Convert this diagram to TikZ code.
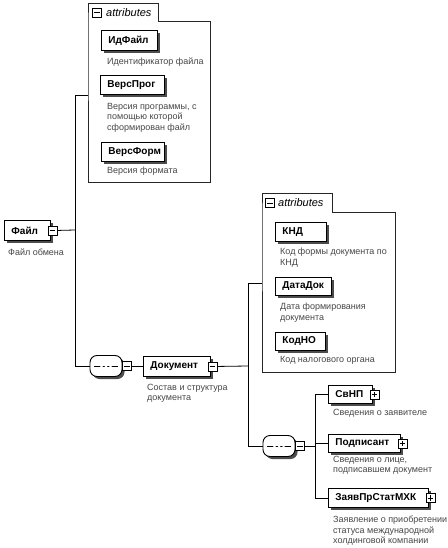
\documentclass[tikz,border=0pt]{standalone}
\usepackage{fontspec}
\setmainfont{Liberation Sans}
\usetikzlibrary{shadows}
\tikzset{
  elem/.style={draw=black, line width=0.9pt, fill=white, anchor=north west,
    inner xsep=7pt, inner ysep=0pt, align=left,
    font=\bfseries\fontsize{10}{12}\selectfont,
    drop shadow={shadow xshift=2.5pt, shadow yshift=-2.5pt, fill=black!70, opacity=1}},
  desc/.style={anchor=north west, inner sep=0pt, align=left, text=black!72,
    font=\fontsize{9}{10.5}\selectfont},
  pmbox/.style={draw=black, line width=0.7pt, fill=white, minimum size=9pt, inner sep=0pt},
  minusbox/.style={pmbox, path picture={\draw[line width=0.7pt]
    ([xshift=1.8pt]path picture bounding box.west) -- ([xshift=-1.8pt]path picture bounding box.east);}},
  plusbox/.style={pmbox, path picture={\draw[line width=0.7pt]
    ([xshift=1.8pt]path picture bounding box.west) -- ([xshift=-1.8pt]path picture bounding box.east)
    ([yshift=1.8pt]path picture bounding box.south) -- ([yshift=-1.8pt]path picture bounding box.north);}},
  seqbox/.style={draw=black, line width=0.9pt, fill=white, rounded corners=7pt,
    minimum width=32pt, minimum height=21pt, inner sep=0pt,
    drop shadow={shadow xshift=2.5pt, shadow yshift=-2.5pt, fill=black!70, opacity=1},
    path picture={
      \draw[line width=0.7pt] ([xshift=4pt]path picture bounding box.west) -- ([xshift=-4pt]path picture bounding box.east);
      \fill ([xshift=-4.5pt]path picture bounding box.center) circle (1.5pt)
            (path picture bounding box.center) circle (1.5pt)
            ([xshift=4.5pt]path picture bounding box.center) circle (1.5pt);}},
  conn/.style={draw=black, line width=0.8pt},
  attrline/.style={draw=black!85, line width=0.7pt, fill=white},
  attrlbl/.style={font=\itshape\fontsize{11}{13}\selectfont, inner sep=0pt, anchor=west},
}
\begin{document}
\begin{tikzpicture}[x=1pt, y=-1pt]
\fill[white] (0,0) rectangle (447,548);
\useasboundingbox (0,0) rectangle (447,548);

% attributes group 1
\draw[attrline] (88,21) -- (88,3) -- (158,3) -- (158,21) -- (210,21) -- (210,182) -- (88,182) -- cycle;
\node[minusbox] (a1m) at (97,12.5) {};
\node[attrlbl] (a1l) at (106,12.5) {attributes};

\node[elem, minimum height=20pt, text width=42pt] (idf) at (101,30) {\mbox{ИдФайл}};
\node[desc] (idfd) at (107,58) {Идентификатор файла};
\node[elem, minimum height=19pt, text width=50pt] (verp) at (100,75) {\mbox{ВерсПрог}};
\node[desc] (verpd) at (107,103) {Версия программы, с\\помощью которой\\сформирован файл};
\node[elem, minimum height=19pt, text width=49pt] (verf) at (101,142) {\mbox{ВерсФорм}};
\node[desc] (verfd) at (107,167) {Версия формата};

% root
\node[elem, minimum height=20pt, text width=32pt] (fajl) at (4,220) {\mbox{Файл}};
\node[minusbox] (fajlm) at ([xshift=1.5pt]fajl.east) {};
\node[desc] (fajld) at (8,249) {Файл обмена};

% sequence 1 and Документ
\node[seqbox] (s1) at (106,366) {};
\node[minusbox] (s1m) at ([xshift=4.5pt]s1.east) {};
\node[elem, minimum height=20pt, text width=53pt] (dok) at (143,356) {\mbox{Документ}};
\node[minusbox] (dokm) at ([xshift=1.5pt]dok.east) {};
\node[desc] (dokd) at (147,384) {Состав и структура\\документа};

% attributes group 2
\draw[attrline] (262,212) -- (262,193) -- (332,193) -- (332,212) -- (395,212) -- (395,372) -- (262,372) -- cycle;
\node[minusbox] (a2m) at (270,203) {};
\node[attrlbl] (a2l) at (278,203) {attributes};

\node[elem, minimum height=19pt, text width=37pt] (knd) at (275,222) {\mbox{КНД}};
\node[desc] (kndd) at (280,248) {Код формы документа по\\КНД};
\node[elem, minimum height=18pt, text width=42pt] (data) at (275,277) {\mbox{ДатаДок}};
\node[desc] (datad) at (280,303) {Дата формирования\\документа};
\node[elem, minimum height=18pt, text width=36pt] (kodno) at (275,332) {\mbox{КодНО}};
\node[desc] (kodnod) at (280,356) {Код налогового органа};

% sequence 2 and children
\node[seqbox] (s2) at (279,446) {};
\node[minusbox] (s2m) at ([xshift=4.5pt]s2.east) {};
\node[elem, minimum height=18pt, text width=30pt] (svnp) at (328,385) {\mbox{СвНП}};
\node[plusbox] (svnpp) at ([xshift=1.5pt]svnp.east) {};
\node[desc] (svnpd) at (333,409) {Сведения о заявителе};
\node[elem, minimum height=18pt, text width=58pt] (podp) at (328,434) {\mbox{Подписант}};
\node[plusbox] (podpp) at ([xshift=1.5pt]podp.east) {};
\node[desc] (podpd) at (333,456) {Сведения о лице,\\подписавшем документ};
\node[elem, minimum height=19pt, text width=86pt] (zayav) at (328,488) {\mbox{ЗаявПрСтатМХК}};
\node[plusbox] (zayavp) at ([xshift=1.5pt]zayav.east) {};
\node[desc] (zayavd) at (333,516) {Заявление о приобретении\\статуса международной\\холдинговой компании};

% junctions
\coordinate (j1) at (75,230);
\coordinate (a1in) at (88,95);
\coordinate (j2) at (248,366);
\coordinate (a2in) at (262,283);
\coordinate (j3) at (315,446);

% connectors
\draw[conn] (fajlm.east) -- (j1);
\draw[conn] (j1) |- (a1in);
\draw[conn] (j1) |- (s1.west);
\draw[conn] (s1m.east) -- (dok.west |- s1m.east);
\draw[conn] (dokm.east) -- (j2);
\draw[conn] (j2) |- (a2in);
\draw[conn] (j2) |- (s2.west);
\draw[conn] (s2m.east) -- (j3);
\draw[conn] (j3) |- (svnp.west);
\draw[conn] (j3) |- (podp.west);
\draw[conn] (j3) |- (zayav.west);
\end{tikzpicture}
\end{document}
